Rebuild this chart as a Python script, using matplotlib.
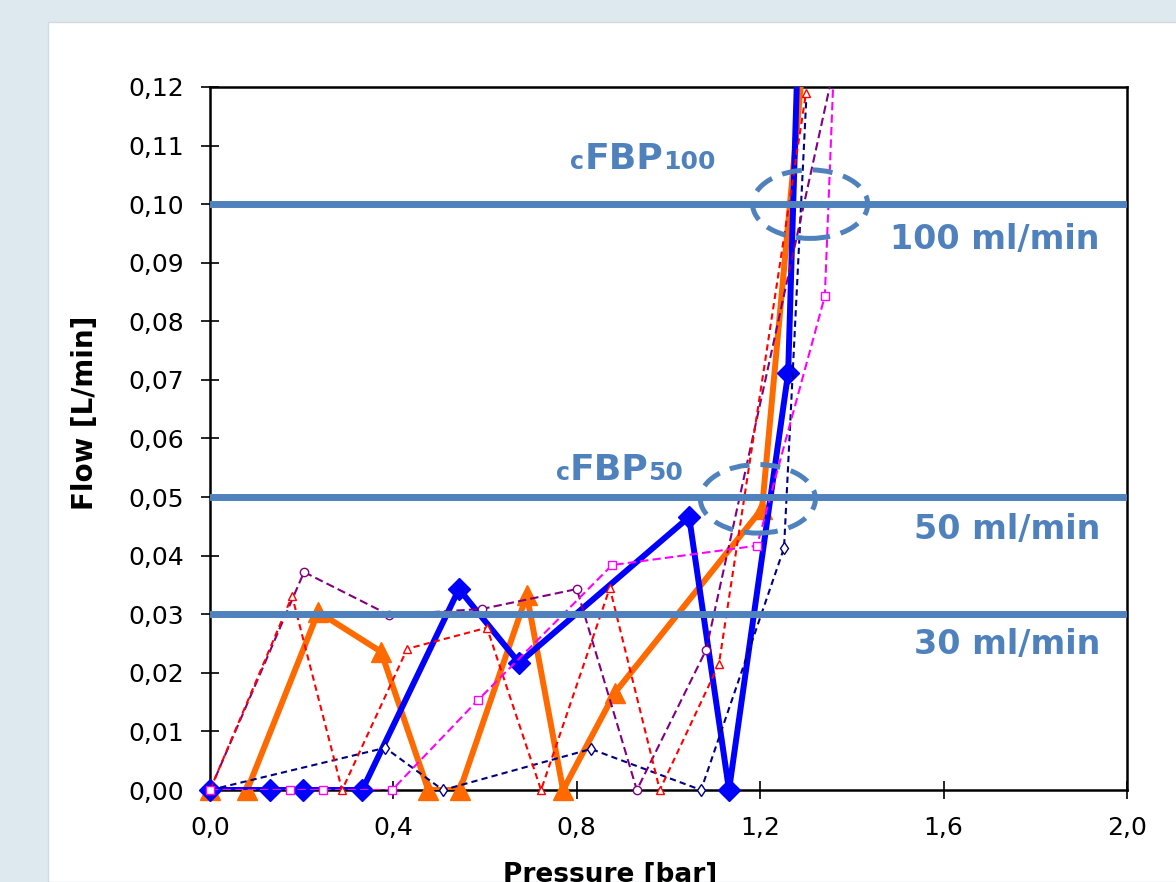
import numpy as np
import matplotlib
matplotlib.use("Agg")
import matplotlib.pyplot as plt
from matplotlib.patches import Ellipse, Rectangle
from matplotlib.offsetbox import TextArea, HPacker, AnnotationBbox

# --- data ---
blue_x = [0.0, 0.131, 0.203, 0.332, 0.543, 0.674, 1.045, 1.132, 1.261, 1.29]
blue_y = [0.0, 0.0, 0.0, 0.0, 0.0343, 0.0217, 0.0466, 0.0, 0.0712, 0.147]

orange_x = [0.0, 0.081, 0.236, 0.373, 0.476, 0.545, 0.691, 0.770, 0.883, 1.204, 1.30]
orange_y = [0.0, 0.0, 0.0304, 0.0236, 0.0, 0.0, 0.0333, 0.0, 0.0166, 0.048, 0.130]

red_x = [0.0, 0.179, 0.288, 0.430, 0.604, 0.722, 0.872, 0.981, 1.110, 1.300]
red_y = [0.0, 0.0331, 0.0, 0.0241, 0.0277, 0.0, 0.0345, 0.0, 0.0215, 0.119]

purple_x = [0.0, 0.205, 0.390, 0.593, 0.800, 0.931, 1.082, 1.36]
purple_y = [0.0, 0.0372, 0.0299, 0.0309, 0.0343, 0.0, 0.0239, 0.123]

navy_x = [0.0, 0.382, 0.508, 0.831, 1.071, 1.252, 1.31]
navy_y = [0.0, 0.0072, 0.0, 0.0070, 0.0, 0.0413, 0.1329]

magenta_x = [0.0, 0.174, 0.246, 0.397, 0.585, 0.877, 1.193, 1.341, 1.37]
magenta_y = [0.0, 0.0, 0.0, 0.0, 0.0154, 0.0384, 0.0417, 0.0843, 0.142]

ref_levels = [0.10, 0.05, 0.03]
ref_labels = ["100 ml/min", "50 ml/min", "30 ml/min"]
ref_label_y = [0.0939, 0.0444, 0.0248]

# cFBP markers: dashed ellipse centres and label anchor points
cfbp_centres = [(1.309, 0.100), (1.195, 0.0497)]
cfbp_subs = ["100", "50"]
cfbp_text_pos = [(0.944, 0.1055), (0.893, 0.0524)]

xticks = [0.0, 0.4, 0.8, 1.2, 1.6, 2.0]
xtick_labels = ["0,0", "0,4", "0,8", "1,2", "1,6", "2,0"]
yticks = [0.00, 0.01, 0.02, 0.03, 0.04, 0.05, 0.06, 0.07, 0.08, 0.09, 0.10, 0.11, 0.12]
ytick_labels = ["0,%02d" % round(v * 100) for v in yticks]

STEEL = "#4F81BD"
YMAX = 0.12

fig = plt.figure(figsize=(11.76, 8.82), dpi=100)
fig.patch.set_facecolor("#DDE8EF")
# white panel behind the chart
fig.patches.append(Rectangle((0.0408, 0.0), 1.0, 0.975, transform=fig.transFigure,
                             facecolor="white", edgecolor="#D0DAE0", lw=1, zorder=-5))

ax = fig.add_axes([0.1786, 0.1043, 0.9583 - 0.1786, 0.9014 - 0.1043])
ax.set_zorder(2)
ax.set_facecolor("white")
ax.set_xlim(0, 2.0)
ax.set_ylim(0, YMAX)


def series(xs, ys, color, lw, marker, ms, mfc, z, dashes=None, mew=1.0):
    # line is clipped at the axes, markers inside the range are not
    kw = dict(color=color, lw=lw, zorder=z)
    if dashes:
        kw["dashes"] = dashes
    ax.plot(xs, ys, **kw)
    xs = np.asarray(xs)
    ys = np.asarray(ys)
    keep = ys <= YMAX
    ax.plot(xs[keep], ys[keep], ls="none", marker=marker, ms=ms, mec=color,
            mfc=mfc, mew=mew, zorder=z + 0.1, clip_on=False)


# thick series
series(orange_x, orange_y, "#FF6A00", 4.3, "^", 15, "#FF6A00", 3)
series(blue_x, blue_y, "#0000FF", 4.3, "D", 11, "#0000FF", 4)

# thin dashed series
thin = [(navy_x, navy_y, "#000080", "d", (3, 2)),
        (purple_x, purple_y, "#800080", "o", (4, 2)),
        (red_x, red_y, "#FF0000", "^", (3, 2)),
        (magenta_x, magenta_y, "#FF00FF", "s", (4, 2))]
for xs, ys, col, mk, dsh in thin:
    series(xs, ys, col, 1.5, mk, 6, "white", 5, dashes=dsh)

# reference levels
for lvl, lab, ly in zip(ref_levels, ref_labels, ref_label_y):
    ax.axhline(lvl, color=STEEL, lw=5, zorder=6)
    ax.text(1.941, ly, lab, color=STEEL, fontsize=24, fontweight="bold",
            ha="right", va="center", zorder=7)

for (cx, cy), sub, (tx, ty) in zip(cfbp_centres, cfbp_subs, cfbp_text_pos):
    ax.add_patch(Ellipse((cx, cy), 0.251, 0.0117, fill=False, edgecolor=STEEL,
                         lw=3.6, linestyle=(0, (4, 2.2)), zorder=7))
    parts = [TextArea("c", textprops=dict(color=STEEL, fontsize=17, fontweight="bold")),
             TextArea("FBP", textprops=dict(color=STEEL, fontsize=26, fontweight="bold")),
             TextArea(sub, textprops=dict(color=STEEL, fontsize=18, fontweight="bold"))]
    box = HPacker(children=parts, align="baseline", pad=0, sep=0)
    ab = AnnotationBbox(box, (tx, ty), xycoords="data", frameon=False,
                        box_alignment=(0.5, 0.12), zorder=8)
    ax.add_artist(ab)

ax.set_xticks(xticks)
ax.set_xticklabels(xtick_labels)
ax.set_yticks(yticks)
ax.set_yticklabels(ytick_labels)
ax.tick_params(direction="inout", length=13, width=1.2, labelsize=18, pad=12)

for sp in ax.spines.values():
    sp.set_linewidth(1.8)
    sp.set_color("black")

ax.set_ylabel("Flow [L/min]", fontsize=20, fontweight="bold")
ax.yaxis.set_label_coords(-0.121, 0.536)
ax.set_xlabel("Pressure [bar]", fontsize=19, fontweight="bold", va="top")
ax.xaxis.set_label_coords(0.436, -0.102)

fig.savefig("out.png", dpi=100, facecolor=fig.get_facecolor())
